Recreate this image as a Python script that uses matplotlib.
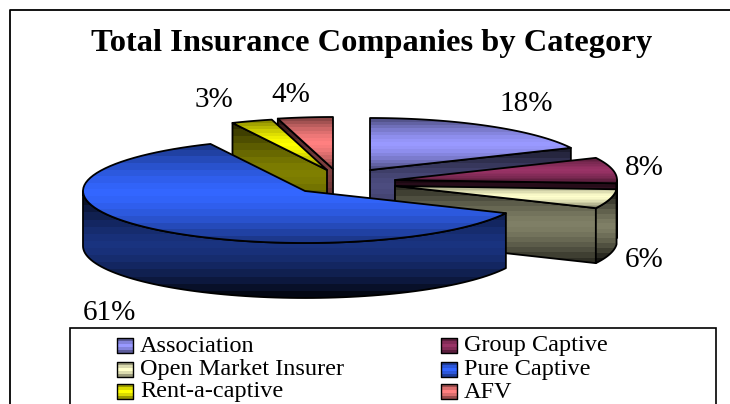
import numpy as np
import matplotlib
matplotlib.use('Agg')
import matplotlib.pyplot as plt
from matplotlib.patches import Polygon, Rectangle

plt.rcParams['font.family'] = ['Liberation Serif', 'DejaVu Serif']

# chart data
categories = ['Association', 'Group Captive', 'Open Market Insurer', 'Pure Captive', 'Rent-a-captive', 'AFV']
values = [18, 8, 6, 61, 3, 4]
colors = ['#9999ff', '#993366', '#ffffcc', '#3366ff', '#ffff00', '#ff8080']
title = 'Total Insurance Companies by Category'

# layout, in image pixels
centres = [(370, 170), (395, 180), (395, 186), (305, 191), (327, 170), (333, 169)]
label_pos = [(526, 104), (644, 168), (644, 260), (109, 313), (214, 100), (291, 95)]
legend_pos = [(117, 346), (441, 346), (117, 370), (441, 370), (117, 392), (441, 392)]
draw_order = [5, 4, 0, 1, 2, 3]
rx, ry, depth = 222, 52, 55

fig = plt.figure(figsize=(7.30, 4.04), dpi=100)
ax = fig.add_axes([0, 0, 1, 1])
ax.set_axis_off()


def rgb(c):
    return np.array(matplotlib.colors.to_rgb(c))


# fill a polygon with the banded dark-bright-dark gradient
def shaded(pts, color, peak=1.0, floor=0.5, z=1, lw=1.3, bands=15):
    pts = np.array(pts)
    y0, y1 = pts[:, 1].min(), pts[:, 1].max()
    u = (np.floor(np.linspace(0, 1, 200) * bands) + 0.5) / bands
    t = np.abs(2 * u - 1)
    fac = peak + (floor - peak) * t ** 1.5
    img = fac[:, None, None] * rgb(color)[None, None, :]
    im = ax.imshow(img, extent=[pts[:, 0].min(), pts[:, 0].max(), y1, y0], aspect='auto',
                   interpolation='nearest', zorder=z)
    clip = Polygon(pts, closed=True, transform=ax.transData, fc='none', ec='k', lw=lw, zorder=z + 0.1,
                   joinstyle='round')
    ax.add_patch(clip)
    im.set_clip_path(clip)


def rim(cx, cy, a0, a1, n=80):
    a = np.radians(np.linspace(a0, a1, n))
    return np.column_stack([cx + rx * np.sin(a), cy - ry * np.cos(a)])


def face(cx, cy, ang):
    p = rim(cx, cy, ang, ang, 1)[0]
    return [(cx, cy), tuple(p), (p[0], p[1] + depth), (cx, cy + depth)]


ends = np.cumsum(values) / np.sum(values) * 360
starts = np.concatenate([[0], ends[:-1]])

z = 2
for i in draw_order:
    cx, cy = centres[i]
    a0, a1 = starts[i], ends[i]
    col = colors[i]
    # cut faces that look towards the viewer
    if a1 < 180:
        shaded(face(cx, cy, a1), col, peak=0.5, floor=0.15, z=z)
        z += 1
    if a0 > 180:
        shaded(face(cx, cy, a0), col, peak=0.5, floor=0.15, z=z)
        z += 1
    # outer wall, front half of the rim only
    w0, w1 = max(a0, 90), min(a1, 270)
    if w1 > w0:
        top = rim(cx, cy, w0, w1)
        bottom = top[::-1] + [0, depth]
        shaded(np.vstack([top, bottom]), col, peak=0.5, floor=0.03, z=z)
        z += 1
    # top surface
    pts = np.vstack([[(cx, cy)], rim(cx, cy, a0, a1)])
    shaded(pts, col, peak=1.0, floor=0.5, z=z)
    z += 1

# percentage labels
for v, (x, y) in zip(values, label_pos):
    ax.text(x, y, f'{v}%', fontsize=21, ha='center', va='center', color='k', zorder=50)

# outer frame, cut by the image edge on the right and bottom
ax.plot([10, 10, 735], [410, 10, 10], color='k', lw=1.3, zorder=60)
ax.text(372, 44, title, fontsize=23.4, fontweight='bold', ha='center', va='center', zorder=50)

# legend
ax.add_patch(Rectangle((70, 328), 646, 90, fc='white', ec='k', lw=1.2, zorder=40))
for name, col, (x, y) in zip(categories, colors, legend_pos):
    shaded([(x, y - 8), (x + 16, y - 8), (x + 16, y + 7), (x, y + 7)], col, peak=1.0, floor=0.45, z=41, lw=1.0, bands=5)
    ax.text(x + 23, y, name, fontsize=17.5, ha='left', va='center', zorder=50)

ax.set_xlim(0, 730)
ax.set_ylim(404, 0)
fig.savefig('out.png', dpi=100)
